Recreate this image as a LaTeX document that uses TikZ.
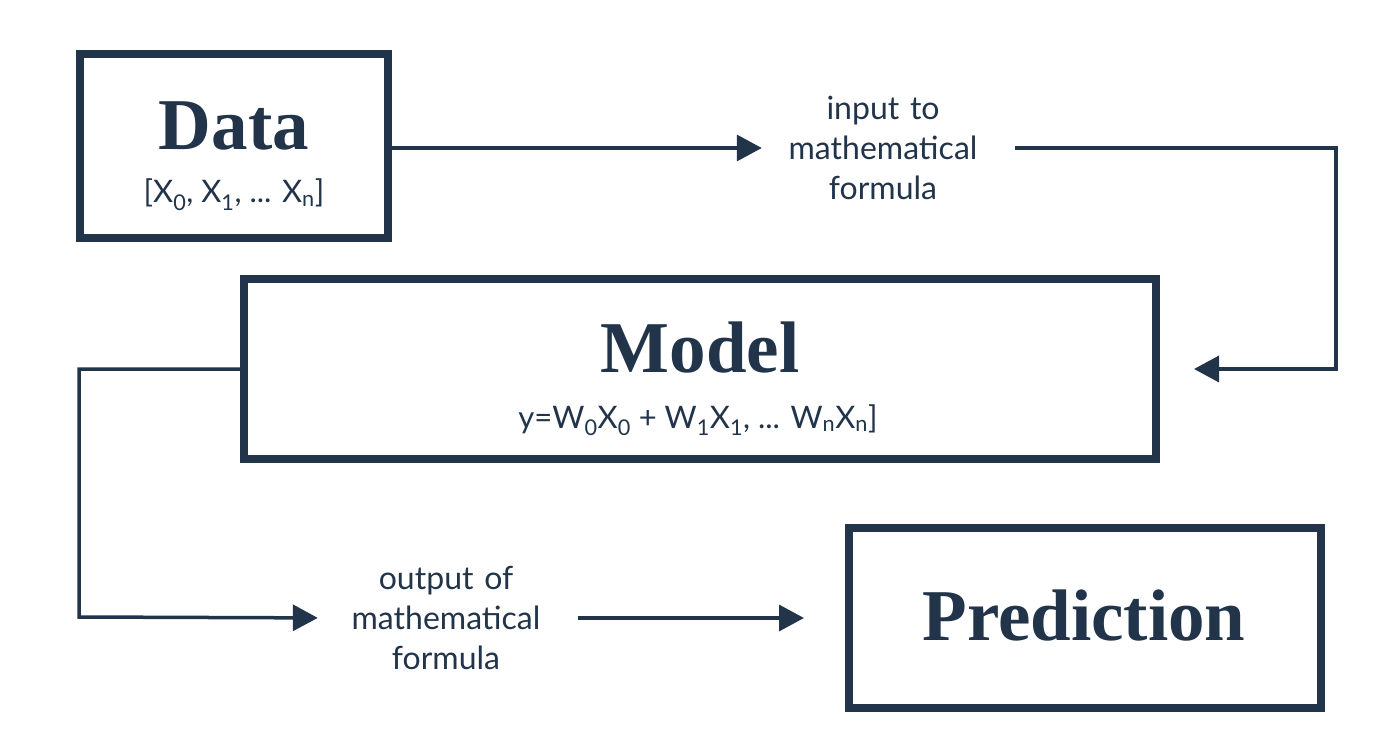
\documentclass[tikz,border=0pt]{standalone}
\usepackage{fontspec}
\setmainfont{Lato}
\newfontfamily\headfont{Liberation Serif}
\usetikzlibrary{arrows.meta}
\definecolor{navy}{HTML}{21344A}

\begin{document}
\begin{tikzpicture}[x=1pt,y=-1pt]
\useasboundingbox (0,0) rectangle (1400,738);
\tikzstyle{every node}=[text=navy,
			inner sep=0pt,
			font=\fontsize{31}{36}\selectfont
			]
\tikzstyle{box}=[draw=navy, line width=8pt, rectangle]
\tikzstyle{title}=[anchor=base, font=\headfont\bfseries\fontsize{73}{73}\selectfont]
\tikzstyle{sub}=[anchor=base]
\tikzstyle{flowlabel}=[text width=210pt, align=center, font=\fontsize{32}{40}\selectfont]
\tikzstyle{conn}=[draw=navy, line width=3.5pt, -{Triangle[length=25pt,width=26pt]}]

% boxes
\node[box, minimum width=308pt, minimum height=184pt] (data) at (234,146) {};
\node[box, minimum width=912pt, minimum height=180pt] (model) at (700,369) {};
\node[box, minimum width=472pt, minimum height=180pt] (pred) at (1085,618) {};

% box texts
\node[title] (datatitle) at (234,150) {Data};
\node[sub] (datasub) at (234,203) {[X\textsubscript{0}, X\textsubscript{1}, ... X\textsubscript{n}]};
\node[title] (modeltitle) at (700,372) {Model};
\node[sub] (modelsub) at (698,428) {y=W\textsubscript{0}X\textsubscript{0} + W\textsubscript{1}X\textsubscript{1}, ... W\textsubscript{n}X\textsubscript{n}]};
\node[title] (predtitle) at (1084,640) {Prediction};

% labels on the connectors
\node[flowlabel] (inlabel) at (883,148) {input to\\mathematical\\formula};
\node[flowlabel] (outlabel) at (446,618) {output of\\mathematical\\formula};

\coordinate (turnin) at (1336,148);
\coordinate (turnout) at (79,617);

% connectors
\draw[conn, shorten >=16pt] (data.east |- inlabel.west) -- (inlabel.west);
\draw[conn, shorten <=27pt, shorten >=34pt] (inlabel.east) -- (turnin) |- (model.east);
\draw[conn, shorten >=23pt] (model.west) -| (turnout) -- (outlabel.west);
\draw[conn, shorten <=27pt, shorten >=41pt] (outlabel.east) -- (pred.west |- outlabel.east);

\end{tikzpicture}
\end{document}
